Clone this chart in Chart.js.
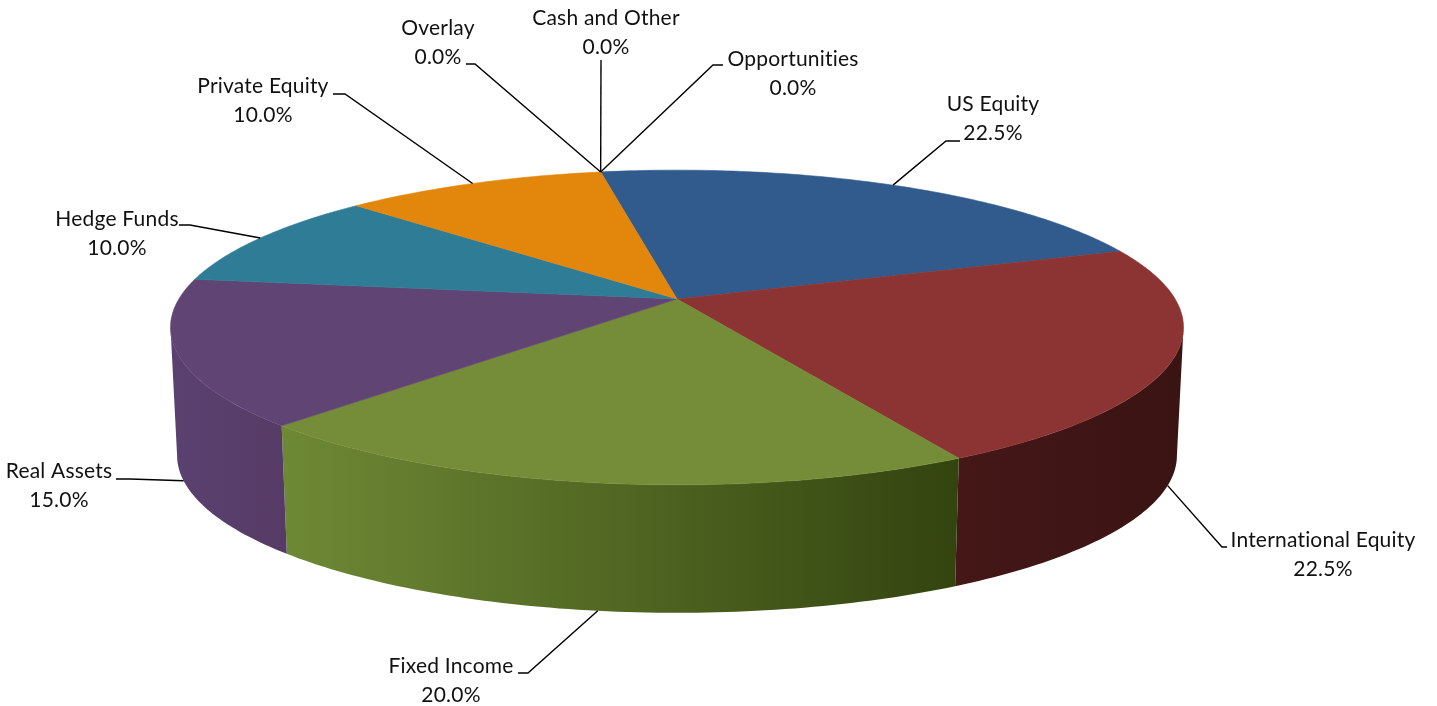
<!DOCTYPE html>
<html>
<head>
<meta charset="utf-8">
<title>Asset allocation</title>
<script src="https://cdn.jsdelivr.net/npm/chart.js@4"></script>
<style>
    html, body { margin: 0; padding: 0; background: #fff; }
    #wrap { width: 1437px; height: 706px; }
</style>
</head>
<body>
<div id="wrap"><canvas id="pie3d"></canvas></div>
<script>
const categories = ['US Equity', 'International Equity', 'Fixed Income', 'Real Assets', 'Hedge Funds', 'Private Equity', 'Overlay', 'Cash and Other', 'Opportunities'];
const allocation = [22.5, 22.5, 20, 15, 10, 10, 0, 0, 0];
const topColors = ['#315b8c', '#8c3433', '#758c38', '#5f4474', '#2f7c96', '#e2870b', '#000', '#000', '#000'];
const wallLeft = ['#1d3756', '#451717', '#6e8935', '#5b4170', '#1d4e5f', '#8c5407', '#000', '#000', '#000'];
const wallRight = ['#1d3756', '#3a1313', '#33440f', '#553b65', '#1d4e5f', '#8c5407', '#000', '#000', '#000'];

// text centre, first line y, elbow of the leader and where it stops next to the text
const labelSpots = [
    { x: 993, y: 104, elbow: [946, 141], end: [960, 141] },
    { x: 1323, y: 540, elbow: [1222, 547], end: [1227, 547] },
    { x: 451, y: 666, elbow: [528, 673], end: [518, 673] },
    { x: 59, y: 471, elbow: [130, 479], end: [116, 479] },
    { x: 117, y: 219, elbow: [190, 225], end: [179, 225] },
    { x: 263, y: 86, elbow: [345, 94], end: [333, 94] },
    { x: 438, y: 28, elbow: [475, 64], end: [466, 64] },
    { x: 606, y: 18, elbow: [601, 60], end: [601, 60] },
    { x: 793, y: 59, elbow: [713, 65], end: [723, 65] }
];

// tilted disc: how a point on the flat pie lands on the screen
const stretchX = 1.666;
const stretchY = 0.509;
const nearness = 0.181;
const wallHeight = 128;
const wallShrink = 0.987;
// the side of the disc only shows between these two angles
const wallFrom = Math.asin(nearness);
const wallTo = Math.PI - wallFrom;

function project(arc, angle, lower) {
    var c = Math.cos(angle), s = Math.sin(angle);
    var w = 1 - nearness * s;
    var dx = arc.outerRadius * stretchX * c / w;
    var dy = arc.outerRadius * stretchY * s / w;
    if (lower) {
        return { x: arc.x + dx * wallShrink, y: arc.y + dy + wallHeight };
    }
    return { x: arc.x + dx, y: arc.y + dy };
}

function rimPath(ctx, arc, from, to, lower, first) {
    var steps = Math.max(2, Math.ceil(Math.abs(to - from) * 60));
    for (var i = 0; i <= steps; i++) {
        var p = project(arc, from + (to - from) * i / steps, lower);
        if (first && i === 0) ctx.moveTo(p.x, p.y);
        else ctx.lineTo(p.x, p.y);
    }
}

const tiltedPie = {
    id: 'tiltedPie',
    beforeDatasetDraw(chart, args) {
        var ctx = chart.ctx;
        var arcs = chart.getDatasetMeta(args.index).data;

        ctx.save();
        arcs.forEach(function (arc, i) {
            var from = Math.max(arc.startAngle, wallFrom);
            var to = Math.min(arc.endAngle, wallTo);
            if (to <= from) return;
            var a = project(arc, from, false);
            var b = project(arc, to, false);
            var grad = ctx.createLinearGradient(Math.min(a.x, b.x), 0, Math.max(a.x, b.x), 0);
            grad.addColorStop(0, wallLeft[i]);
            grad.addColorStop(1, wallRight[i]);
            ctx.beginPath();
            rimPath(ctx, arc, from, to, false, true);
            rimPath(ctx, arc, to, from, true, false);
            ctx.closePath();
            ctx.fillStyle = grad;
            ctx.fill();
        });

        arcs.forEach(function (arc) {
            if (arc.endAngle - arc.startAngle <= 0) return;
            ctx.beginPath();
            ctx.moveTo(arc.x, arc.y);
            rimPath(ctx, arc, arc.startAngle, arc.endAngle, false, false);
            ctx.closePath();
            ctx.fillStyle = arc.options.backgroundColor;
            ctx.strokeStyle = arc.options.backgroundColor;
            ctx.lineWidth = 0.6;
            ctx.fill();
            ctx.stroke();
        });
        ctx.restore();
        return false;
    },
    afterDraw(chart) {
        var ctx = chart.ctx;
        var arcs = chart.getDatasetMeta(0).data;

        ctx.save();
        ctx.font = '21px Lato';
        ctx.letterSpacing = '0.2px';
        ctx.fillStyle = '#111';
        ctx.textAlign = 'center';
        ctx.textBaseline = 'middle';
        arcs.forEach(function (arc, i) {
            var spot = labelSpots[i];
            var mid = (arc.startAngle + arc.endAngle) / 2;
            // front slices get the leader on the bottom edge, rear ones on the top rim
            var from = project(arc, mid, Math.sin(mid) > 0);

            ctx.beginPath();
            ctx.moveTo(from.x, from.y);
            ctx.lineTo(spot.elbow[0], spot.elbow[1]);
            ctx.lineTo(spot.end[0], spot.end[1]);
            ctx.strokeStyle = '#000';
            ctx.lineWidth = 1.4;
            ctx.stroke();

            ctx.fillText(categories[i], spot.x, spot.y);
            ctx.fillText(allocation[i].toFixed(1) + '%', spot.x, spot.y + 29);
        });
        ctx.restore();
    }
};

new Chart(document.getElementById('pie3d'), {
    type: 'pie',
    data: {
        labels: categories,
        datasets: [{
            data: allocation,
            backgroundColor: topColors,
            borderWidth: 0
        }]
    },
    options: {
        responsive: true,
        maintainAspectRatio: false,
        animation: false,
        rotation: -10.4,
        layout: { padding: { right: 83, bottom: 108 } },
        plugins: {
            legend: { display: false },
            tooltip: { enabled: false }
        }
    },
    plugins: [tiltedPie]
});
</script>
</body>
</html>
